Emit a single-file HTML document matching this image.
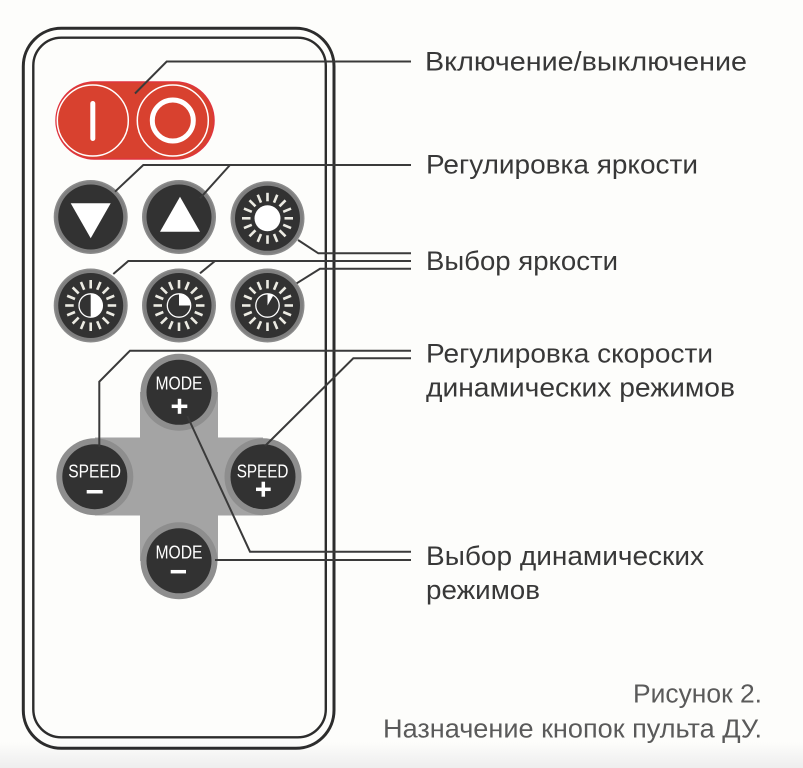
<!DOCTYPE html>
<html><head><meta charset="utf-8"><style>
html,body{margin:0;padding:0;background:#fdfdfb;}
svg{display:block;}
</style></head><body>
<svg width="803" height="768" viewBox="0 0 803 768" xmlns="http://www.w3.org/2000/svg">
<defs>
<linearGradient id="bg" x1="0" y1="0" x2="0" y2="1">
<stop offset="0" stop-color="#fdfdfb"/><stop offset="1" stop-color="#eeeeee"/>
</linearGradient>
<g id="rays">
<g stroke="#ecebe3" stroke-width="2.6">
<line x1="0" y1="-17" x2="0" y2="-25.5"/>
<line x1="0" y1="-17" x2="0" y2="-25.5" transform="rotate(22.5)"/>
<line x1="0" y1="-17" x2="0" y2="-25.5" transform="rotate(45)"/>
<line x1="0" y1="-17" x2="0" y2="-25.5" transform="rotate(67.5)"/>
<line x1="0" y1="-17" x2="0" y2="-25.5" transform="rotate(90)"/>
<line x1="0" y1="-17" x2="0" y2="-25.5" transform="rotate(112.5)"/>
<line x1="0" y1="-17" x2="0" y2="-25.5" transform="rotate(135)"/>
<line x1="0" y1="-17" x2="0" y2="-25.5" transform="rotate(157.5)"/>
<line x1="0" y1="-17" x2="0" y2="-25.5" transform="rotate(180)"/>
<line x1="0" y1="-17" x2="0" y2="-25.5" transform="rotate(202.5)"/>
<line x1="0" y1="-17" x2="0" y2="-25.5" transform="rotate(225)"/>
<line x1="0" y1="-17" x2="0" y2="-25.5" transform="rotate(247.5)"/>
<line x1="0" y1="-17" x2="0" y2="-25.5" transform="rotate(270)"/>
<line x1="0" y1="-17" x2="0" y2="-25.5" transform="rotate(292.5)"/>
<line x1="0" y1="-17" x2="0" y2="-25.5" transform="rotate(315)"/>
<line x1="0" y1="-17" x2="0" y2="-25.5" transform="rotate(337.5)"/>
</g>
</g>
<g id="btn">
<circle r="37" fill="#8b8b8b"/>
<circle r="35.5" fill="#7f7f7f"/>
<circle r="32.5" fill="#323232"/>
</g>
</defs>

<rect x="0" y="742" width="803" height="26" fill="url(#bg)"/>

<!-- remote body -->
<rect x="23.3" y="28.3" width="310.7" height="720" rx="38" ry="38" fill="none" stroke="#2c2c2c" stroke-width="3"/>
<rect x="33.3" y="37.7" width="292.5" height="699.6" rx="28" ry="28" fill="none" stroke="#2c2c2c" stroke-width="2.4"/>

<!-- power pill -->
<rect x="56" y="82" width="158" height="77" rx="38.5" ry="38.5" fill="#d8412f" stroke="#e0343e" stroke-width="1.5"/>
<circle cx="92.8" cy="120.5" r="35.5" fill="none" stroke="#fff" stroke-width="1.5"/>
<circle cx="172.8" cy="120.5" r="35.5" fill="none" stroke="#fff" stroke-width="1.5"/>
<line x1="92.8" y1="103.5" x2="92.8" y2="138.5" stroke="#fff" stroke-width="5" stroke-linecap="round"/>
<circle cx="172.8" cy="120.5" r="20.5" fill="none" stroke="#fff" stroke-width="5"/>

<!-- row 1 -->
<use href="#btn" x="90.7" y="217"/>
<use href="#btn" x="179" y="217"/>
<use href="#btn" x="267.5" y="218.3"/>
<polygon points="70.7,203.3 110.7,203.3 90.7,238.3" fill="#fff"/>
<polygon points="160,231.7 200,231.7 180,196.7" fill="#fff"/>
<use href="#rays" x="267.5" y="218.3"/>
<circle cx="267.5" cy="218.3" r="13" fill="#fff"/>

<!-- row 2 -->
<use href="#btn" x="90.7" y="305.5"/>
<use href="#btn" x="179" y="305.5"/>
<use href="#btn" x="267.5" y="305.5"/>
<use href="#rays" x="90.7" y="305.5"/>
<use href="#rays" x="179" y="305.5"/>
<use href="#rays" x="267.5" y="305.5"/>
<circle cx="90.7" cy="305.5" r="11.7" fill="none" stroke="#fff" stroke-width="1.3"/>
<path d="M90.7,293.8 A11.7,11.7 0 0 1 90.7,317.2 Z" fill="#fff"/>
<circle cx="179" cy="305.5" r="11.7" fill="none" stroke="#fff" stroke-width="1.3"/>
<path d="M179,305.5 L179,293.8 A11.7,11.7 0 0 1 190.7,305.5 Z" fill="#fff"/>
<circle cx="267.5" cy="305.5" r="11.7" fill="none" stroke="#fff" stroke-width="1.3"/>
<path d="M267.5,305.5 L267.5,293.8 A11.7,11.7 0 0 1 273.35,295.37 Z" fill="#fff"/>

<!-- cross -->
<rect x="140" y="392" width="78" height="169" fill="#a4a4a4"/>
<rect x="95" y="437.5" width="168" height="78" fill="#a4a4a4"/>
<g>
<circle cx="179" cy="392.3" r="38.5" fill="#8e8e8e"/><circle cx="179" cy="392.3" r="32.5" fill="#323232"/>
<circle cx="179" cy="560.8" r="38.5" fill="#8e8e8e"/><circle cx="179" cy="560.8" r="32.5" fill="#323232"/>
<circle cx="94.8" cy="476.7" r="38.5" fill="#8e8e8e"/><circle cx="94.8" cy="476.7" r="32.5" fill="#323232"/>
<circle cx="263" cy="476.7" r="38.5" fill="#8e8e8e"/><circle cx="263" cy="476.7" r="32.5" fill="#323232"/>
</g>
<g font-family="Liberation Sans, DejaVu Sans, sans-serif" font-size="18" fill="#fff">
<text x="155.5" y="389.5" textLength="47" lengthAdjust="spacingAndGlyphs">MODE</text>
<text x="155.5" y="558.3" textLength="47" lengthAdjust="spacingAndGlyphs">MODE</text>
<text x="68.3" y="477.7" textLength="52.7" lengthAdjust="spacingAndGlyphs">SPEED</text>
<text x="236.7" y="477.7" textLength="51.7" lengthAdjust="spacingAndGlyphs">SPEED</text>
</g>
<g stroke="#fff" stroke-width="3.5">
<line x1="171.7" y1="406.3" x2="187.3" y2="406.3"/><line x1="179.5" y1="398.8" x2="179.5" y2="413.8"/>
<line x1="170.7" y1="571.7" x2="186" y2="571.7"/>
<line x1="86.7" y1="491.7" x2="102.7" y2="491.7"/>
<line x1="256" y1="489.3" x2="270.7" y2="489.3"/><line x1="263.3" y1="481.7" x2="263.3" y2="496.7"/>
</g>

<!-- connectors -->
<g fill="none" stroke="#3a3a3a" stroke-width="2" stroke-linejoin="miter">
<polyline points="135,93.5 166.7,61.5 411,61.5"/>
<polyline points="115,191.7 143.3,165 411,165"/>
<polyline points="200,198.3 230,165"/>
<polyline points="298,240 318.3,253.3 411,253.3"/>
<polyline points="113.3,274 128.3,261 411,261"/>
<polyline points="200,273.3 215,261"/>
<polyline points="296.7,283.3 320,268.8 411,268.8"/>
<polyline points="99.3,446.7 99.3,381.7 130,350.7 411,350.7"/>
<polyline points="265,446 353.3,358.3 411,358.3"/>
<polyline points="187.3,416 250,551.7 411,551.7"/>
<polyline points="215,560 411,560"/>
</g>

<!-- labels -->
<g font-family="Liberation Sans, DejaVu Sans, sans-serif" font-size="27" fill="#383838">
<text x="425" y="70.5" textLength="322" lengthAdjust="spacingAndGlyphs">Включение/выключение</text>
<text x="426" y="173.5" textLength="272" lengthAdjust="spacingAndGlyphs">Регулировка яркости</text>
<text x="426" y="270" textLength="192" lengthAdjust="spacingAndGlyphs">Выбор яркости</text>
<text x="426" y="362.5" textLength="287" lengthAdjust="spacingAndGlyphs">Регулировка скорости</text>
<text x="426" y="396.5" textLength="309" lengthAdjust="spacingAndGlyphs">динамических режимов</text>
<text x="426" y="565" textLength="278" lengthAdjust="spacingAndGlyphs">Выбор динамических</text>
<text x="426" y="599" textLength="114" lengthAdjust="spacingAndGlyphs">режимов</text>
</g>
<g font-family="Liberation Sans, DejaVu Sans, sans-serif" font-size="25.5" fill="#5a5a5a">
<text x="633" y="702.7" textLength="129" lengthAdjust="spacingAndGlyphs">Рисунок 2.</text>
<text x="383" y="737.3" textLength="379" lengthAdjust="spacingAndGlyphs">Назначение кнопок пульта ДУ.</text>
</g>
</svg>
</body></html>
